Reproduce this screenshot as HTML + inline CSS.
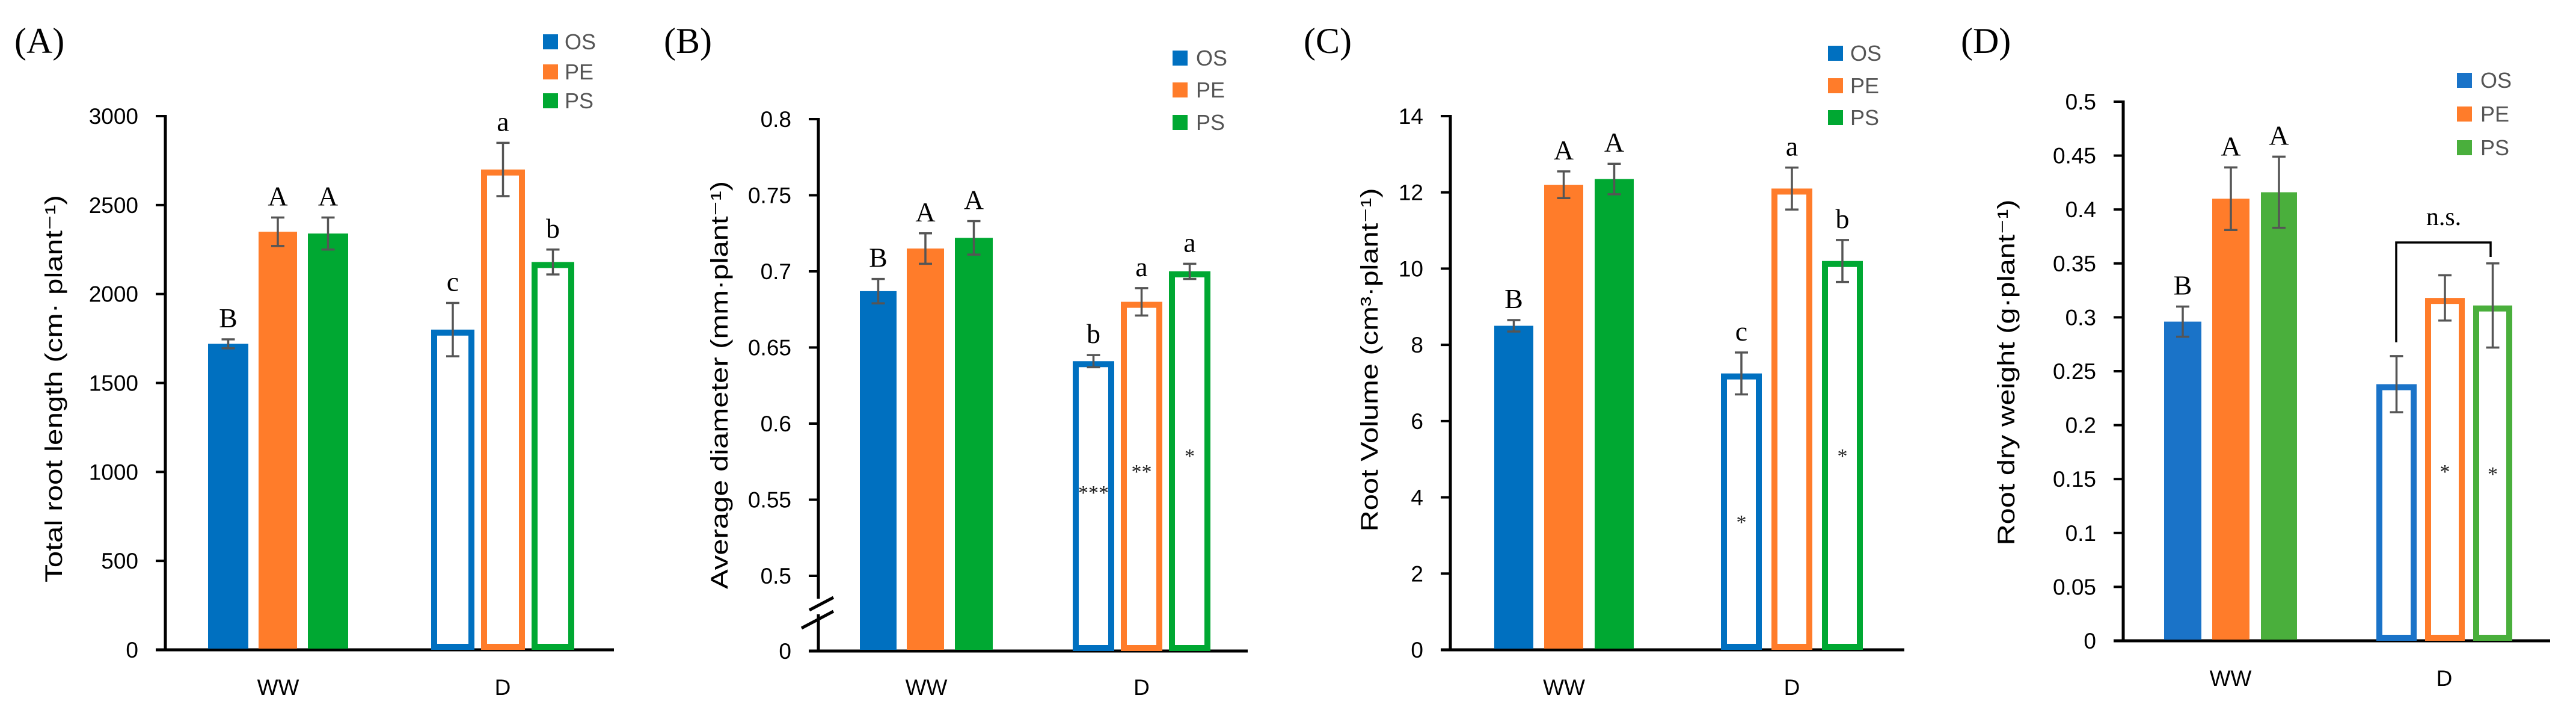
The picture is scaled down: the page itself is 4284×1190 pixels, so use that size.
<!DOCTYPE html>
<html><head><meta charset="utf-8"><style>
html,body{margin:0;padding:0;background:#fff;}
svg{display:block;}
text{font-family:"Liberation Sans",sans-serif;}
.serif{font-family:"Liberation Serif",serif;}
</style></head><body>
<svg id="fig" width="4284" height="1190" viewBox="0 0 4284 1190" xmlns="http://www.w3.org/2000/svg"></svg>
<script>
// ---------- data ----------
const categories = ["WW", "D"];
const seriesNames = ["OS", "PE", "PS"];
// Panel A: total root length
const aWW = [1720, 2350, 2340];
const aWWerr = [25, 80, 90];
const aD = [1800, 2700, 2180];
const aDerr = [150, 150, 70];
const aWWletters = ["B", "A", "A"];
const aDletters = ["c", "a", "b"];
const aDstars = ["", "", ""];
const aTicks = [0, 500, 1000, 1500, 2000, 2500, 3000];
// Panel B: average diameter
const bWW = [0.687, 0.715, 0.722];
const bWWerr = [0.008, 0.01, 0.011];
const bD = [0.641, 0.680, 0.700];
const bDerr = [0.004, 0.009, 0.005];
const bWWletters = ["B", "A", "A"];
const bDletters = ["b", "a", "a"];
const bDstars = ["***", "**", "*"];
const bTicks = [0.5, 0.55, 0.6, 0.65, 0.7, 0.75, 0.8];
const bTickLabels = ["0.5", "0.55", "0.6", "0.65", "0.7", "0.75", "0.8"];
// Panel C: root volume
const cWW = [8.5, 12.2, 12.35];
const cWWerr = [0.15, 0.35, 0.4];
const cD = [7.25, 12.1, 10.2];
const cDerr = [0.55, 0.55, 0.55];
const cWWletters = ["B", "A", "A"];
const cDletters = ["c", "a", "b"];
const cDstars = ["*", "", "*"];
const cTicks = [0, 2, 4, 6, 8, 10, 12, 14];
// Panel D: root dry weight
const dWW = [0.296, 0.41, 0.416];
const dWWerr = [0.014, 0.029, 0.033];
const dD = [0.238, 0.318, 0.311];
const dDerr = [0.026, 0.021, 0.039];
const dWWletters = ["B", "A", "A"];
const dDletters = ["", "", ""];
const dDstars = ["", "*", "*"];
const dTicks = [0, 0.05, 0.1, 0.15, 0.2, 0.25, 0.3, 0.35, 0.4, 0.45, 0.5];
const dTickLabels = ["0", "0.05", "0.1", "0.15", "0.2", "0.25", "0.3", "0.35", "0.4", "0.45", "0.5"];

// ---------- drawing ----------
const NS = "http://www.w3.org/2000/svg";
const svg = document.getElementById("fig");
function mk(tag, attrs, parent) {
  const e = document.createElementNS(NS, tag);
  for (const k in attrs) e.setAttribute(k, attrs[k]);
  (parent || svg).appendChild(e);
  return e;
}

const panels = [
  { id: "a", label: "(A)", labelX: 24, labelY: 88,
    axisX: 275, axisEnd: 1021, zeroY: 1080, topY: 193, vmin: 0, vmax: 3000,
    ticks: aTicks, tickLabels: aTicks.map(String), breakAxis: false,
    ww: aWW, wwErr: aWWerr, d: aD, dErr: aDerr, wwL: aWWletters, dL: aDletters, stars: aDstars, starY: [0,0,0],
    wwBars: [[346, 413], [430, 494], [512, 579]], dBars: [[717, 789], [800, 873], [884, 955]],
    colors: ["#0070C0", "#FF7C2A", "#00A832"],
    legX: 903, legY: [57, 107, 155], legText: 939,
    title: "Total root length (cm· plant⁻¹)", titleX: 89, titleY: 646, titleLen: 644, catY: 1155 },
  { id: "b", label: "(B)", labelX: 1104, labelY: 88,
    axisX: 1361, axisEnd: 2075, zeroY: 1082, topY: 198, vmin: 0.5, vmax: 0.8, lowY: 957,
    ticks: bTicks, tickLabels: bTickLabels, breakAxis: true,
    ww: bWW, wwErr: bWWerr, d: bD, dErr: bDerr, wwL: bWWletters, dL: bDletters, stars: bDstars, starY: [830, 795, 769],
    wwBars: [[1430, 1491], [1508, 1570], [1588, 1651]], dBars: [[1784, 1853], [1864, 1933], [1944, 2013]],
    colors: ["#0070C0", "#FF7C2A", "#00A832"],
    legX: 1950, legY: [84, 137, 191], legText: 1989,
    title: "Average diameter (mm·plant⁻¹)", titleX: 1196, titleY: 640, titleLen: 678, catY: 1155 },
  { id: "c", label: "(C)", labelX: 2168, labelY: 88,
    axisX: 2412, axisEnd: 3167, zeroY: 1080, topY: 193, vmin: 0, vmax: 14,
    ticks: cTicks, tickLabels: cTicks.map(String), breakAxis: false,
    ww: cWW, wwErr: cWWerr, d: cD, dErr: cDerr, wwL: cWWletters, dL: cDletters, stars: cDstars, starY: [879, 0, 769],
    wwBars: [[2485, 2550], [2568, 2633], [2652, 2717]], dBars: [[2862, 2930], [2946, 3014], [3030, 3098]],
    colors: ["#0070C0", "#FF7C2A", "#00A832"],
    legX: 3040, legY: [76, 130, 183], legText: 3077,
    title: "Root Volume (cm³·plant⁻¹)", titleX: 2277, titleY: 598, titleLen: 571, catY: 1155 },
  { id: "d", label: "(D)", labelX: 3261, labelY: 88,
    axisX: 3531, axisEnd: 4241, zeroY: 1065, topY: 169, vmin: 0, vmax: 0.5,
    ticks: dTicks, tickLabels: dTickLabels, breakAxis: false,
    ww: dWW, wwErr: dWWerr, d: dD, dErr: dDerr, wwL: dWWletters, dL: dDletters, stars: dDstars, starY: [0, 795, 799],
    wwBars: [[3599, 3661], [3679, 3741], [3760, 3820]], dBars: [[3952, 4019], [4033, 4099], [4113, 4178]],
    colors: ["#1A73C8", "#FF7C2A", "#4AAF3C"],
    legX: 4086, legY: [121, 177, 233], legText: 4125,
    title: "Root dry weight (g·plant⁻¹)", titleX: 3336, titleY: 619, titleLen: 575, catY: 1140 }
];

panels.forEach(p => {
  const g = mk("g", {});
  
  
  function y(v) {
    if (p.breakAxis) {
      if (v <= 0) return p.zeroY;
      return p.lowY + (v - p.vmin) / (p.vmax - p.vmin) * (p.topY - p.lowY);
    }
    return p.zeroY + (v - p.vmin) / (p.vmax - p.vmin) * (p.topY - p.zeroY);
  }
  const lbl = mk("text", { x: p.labelX, y: p.labelY, "font-size": 60, class: "serif", fill: "#000" }, g);
  lbl.textContent = p.label;
  
  

  const ax = mk("g", {}, g);
  
  
  if (p.breakAxis) {
    mk("line", { x1: p.axisX, y1: p.topY - 2, x2: p.axisX, y2: 995, stroke: "#000", "stroke-width": 5 }, ax);
    mk("line", { x1: p.axisX, y1: 1021, x2: p.axisX, y2: p.zeroY, stroke: "#000", "stroke-width": 5 }, ax);
    mk("line", { x1: 1346, y1: 1014, x2: 1386, y2: 993, stroke: "#000", "stroke-width": 5 }, ax);
    mk("line", { x1: 1333, y1: 1044, x2: 1386, y2: 1016, stroke: "#000", "stroke-width": 5 }, ax);
    const zl = mk("text", { x: p.axisX - 45, y: p.zeroY + 13, "font-size": 37, "text-anchor": "end", fill: "#000" }, ax);
    zl.textContent = "0";
    
    
  } else {
    mk("line", { x1: p.axisX, y1: p.topY - 2, x2: p.axisX, y2: p.zeroY, stroke: "#000", "stroke-width": 5 }, ax);
  }
  p.ticks.forEach((t, i) => {
    const ty = y(t);
    mk("line", { x1: p.axisX - 16, y1: ty, x2: p.axisX, y2: ty, stroke: "#000", "stroke-width": 4 }, ax);
    const tl = mk("text", { x: p.axisX - 45, y: ty + 13, "font-size": 37, "text-anchor": "end", fill: "#000" }, ax);
    tl.textContent = p.tickLabels[i];
    
    
  });
  const xa = mk("line", { x1: p.axisX - 16, y1: p.zeroY, x2: p.axisEnd, y2: p.zeroY, stroke: "#000", "stroke-width": 5 }, g);
  
  

  const tt = mk("text", { x: 0, y: 0, "font-size": 40, "text-anchor": "middle", fill: "#000",
    transform: `translate(${p.titleX + 14},${p.titleY}) rotate(-90)`, textLength: p.titleLen, lengthAdjust: "spacingAndGlyphs" }, g);
  tt.textContent = p.title;
  
  

  const groups = [
    { vals: p.ww, errs: p.wwErr, bars: p.wwBars, letters: p.wwL, filled: true, cat: 0 },
    { vals: p.d, errs: p.dErr, bars: p.dBars, letters: p.dL, filled: false, cat: 1 }
  ];
  groups.forEach(gr => {
    gr.vals.forEach((v, i) => {
      const [x0, x1] = gr.bars[i];
      const top = y(v);
      const col = p.colors[i];
      let r;
      if (gr.filled) {
        r = mk("rect", { x: x0, y: top, width: x1 - x0, height: p.zeroY - top - 2, fill: col }, g);
      } else {
        r = mk("rect", { x: x0 + 5, y: top + 5, width: x1 - x0 - 10, height: p.zeroY - top - 10, fill: "#fff", stroke: col, "stroke-width": 10 }, g);
      }
      
      
      const cx = (x0 + x1) / 2;
      const eh = y(v + gr.errs[i]), el = y(v - gr.errs[i]);
      const eb = mk("path", { d: `M${cx},${eh}V${el}M${cx - 11},${eh}H${cx + 11}M${cx - 11},${el}H${cx + 11}`, stroke: "#555", "stroke-width": 3.5, fill: "none" }, g);
      
      
      if (gr.letters[i]) {
        const lt = mk("text", { x: cx, y: eh - 20, "font-size": 46, "text-anchor": "middle", class: "serif", fill: "#000" }, g);
        lt.textContent = gr.letters[i];
        
        
      }
      if (!gr.filled && p.stars[i]) {
        const st = mk("text", { x: cx, y: p.starY[i], "font-size": 34, "text-anchor": "middle", class: "serif", fill: "#222" }, g);
        st.textContent = p.stars[i];
        
        
      }
    });
    const gx = (gr.bars[0][0] + gr.bars[2][1]) / 2;
    const ct = mk("text", { x: gx, y: p.catY, "font-size": 37, "text-anchor": "middle", fill: "#000" }, g);
    ct.textContent = categories[gr.cat];
    
    
  });

  seriesNames.forEach((s, i) => {
    const lg = mk("g", {}, g);
    
    
    mk("rect", { x: p.legX, y: p.legY[i], width: 25, height: 25, fill: p.colors[i] }, lg);
    const t = mk("text", { x: p.legText, y: p.legY[i] + 25, "font-size": 36, fill: "#555" }, lg);
    t.textContent = s;
  });

  if (p.id === "d") {
    const br = mk("path", { d: "M3985,569V403H4142V427", stroke: "#000", "stroke-width": 3.5, fill: "none" }, g);
    
    
    const ns = mk("text", { x: 4064, y: 374, "font-size": 42, "text-anchor": "middle", class: "serif", fill: "#000" }, g);
    ns.textContent = "n.s.";
    
    
  }
});
</script>
</body></html>
